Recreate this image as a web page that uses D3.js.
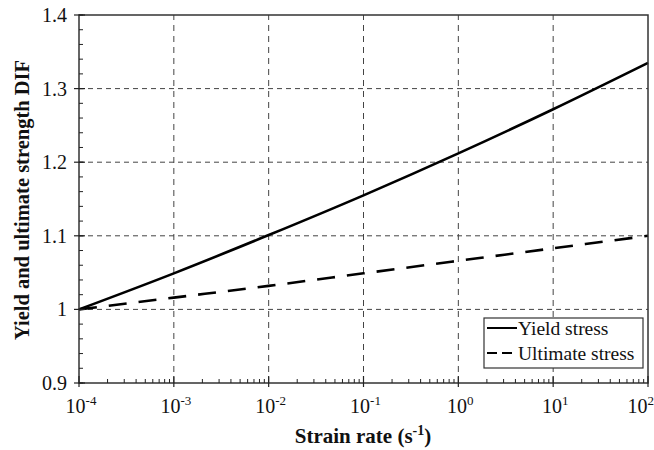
<!DOCTYPE html>
<html><head><meta charset="utf-8">
<script src="https://cdn.jsdelivr.net/npm/d3@7"></script>
<style>body{margin:0;background:#fff}svg{display:block}
text{font-family:"Liberation Serif","Times New Roman","DejaVu Serif",serif}</style>
</head><body>
<script>
const strainRates = [1e-4, 1e-3, 1e-2, 1e-1, 1e0, 1e1, 1e2];
const yieldDIF = [1.0, 1.049, 1.101, 1.155, 1.212, 1.272, 1.335];
const ultimateDIF = [1.0, 1.016, 1.032, 1.049, 1.066, 1.083, 1.100];
const yTicks = [0.9, 1.0, 1.1, 1.2, 1.3, 1.4];
const yTickLabels = ["0.9", "1", "1.1", "1.2", "1.3", "1.4"];
const xExponents = [-4, -3, -2, -1, 0, 1, 2];
const seriesNames = ["Yield stress", "Ultimate stress"];

const W = 654, H = 450;
const m = {l: 79, r: 6, t: 15, b: 67};
const svg = d3.select("body").append("svg").attr("width", W).attr("height", H);
const x = d3.scaleLog().domain([1e-4, 1e2]).range([m.l, W - m.r]);
const y = d3.scaleLinear().domain([0.9, 1.4]).range([H - m.b, m.t]);

// grid
const g = svg.append("g");
g.selectAll(".gx").data(strainRates.slice(1, -1)).enter().append("line")
  .attr("x1", d => x(d)).attr("x2", d => x(d)).attr("y1", y(0.9)).attr("y2", y(1.4))
  .attr("stroke", "#444").attr("stroke-width", 1).attr("stroke-dasharray", "6,5");
g.selectAll(".gy").data(yTicks.slice(1, -1)).enter().append("line")
  .attr("x1", x(1e-4)).attr("x2", x(1e2)).attr("y1", d => y(d)).attr("y2", d => y(d))
  .attr("stroke", "#444").attr("stroke-width", 1).attr("stroke-dasharray", "5,4");

// data lines
const line = d3.line().x(d => x(d[0])).y(d => y(d[1])).curve(d3.curveMonotoneX);
svg.append("path").datum(strainRates.map((r, i) => [r, yieldDIF[i]]))
  .attr("d", line).attr("fill", "none").attr("stroke", "#000").attr("stroke-width", 2.6);
svg.append("path").datum(strainRates.map((r, i) => [r, ultimateDIF[i]]))
  .attr("d", line).attr("fill", "none").attr("stroke", "#000").attr("stroke-width", 2.6)
  .attr("stroke-dasharray", "18,12");

// frame
svg.append("rect").attr("x", m.l).attr("y", m.t).attr("width", W - m.r - m.l).attr("height", H - m.b - m.t)
  .attr("fill", "none").attr("stroke", "#333").attr("stroke-width", 1.5);

// x ticks
const minor = [];
for (let e = -4; e < 2; e++) for (let k = 2; k <= 9; k++) minor.push(k * Math.pow(10, e));
svg.selectAll(".xm").data(minor).enter().append("line")
  .attr("x1", d => x(d)).attr("x2", d => x(d)).attr("y1", y(0.9)).attr("y2", y(0.9) - 4)
  .attr("stroke", "#222").attr("stroke-width", 1);
svg.selectAll(".xM").data(strainRates).enter().append("line")
  .attr("x1", d => x(d)).attr("x2", d => x(d)).attr("y1", y(0.9) + 4).attr("y2", y(0.9) - 7)
  .attr("stroke", "#222").attr("stroke-width", 1.2);
const nX = xExponents.length;
const xl = svg.selectAll(".xl").data(xExponents).enter().append("text")
  .attr("x", (d, i) => i === nX - 1 ? W : x(strainRates[i]) + 2)
  .attr("y", 413)
  .attr("text-anchor", (d, i) => i === nX - 1 ? "end" : "middle")
  .attr("font-size", 20).attr("fill", "#111");
xl.append("tspan").text("10");
xl.append("tspan").text(d => d).attr("dy", -8).attr("font-size", 13);

// y ticks
const yMinor = d3.range(0, 26).map(i => 0.9 + i * 0.02);
svg.selectAll(".ym").data(yMinor).enter().append("line")
  .attr("x1", m.l).attr("x2", m.l + 4).attr("y1", d => y(d)).attr("y2", d => y(d))
  .attr("stroke", "#222").attr("stroke-width", 1);
svg.selectAll(".yM").data(yTicks).enter().append("line")
  .attr("x1", m.l - 5).attr("x2", m.l + 6).attr("y1", d => y(d)).attr("y2", d => y(d))
  .attr("stroke", "#222").attr("stroke-width", 1.2);
svg.selectAll(".yl").data(yTicks).enter().append("text")
  .attr("x", m.l - 12).attr("y", d => y(d) + 7).attr("text-anchor", "end")
  .attr("font-size", 20).attr("fill", "#111")
  .text((d, i) => yTickLabels[i]);

// axis titles
const xt = svg.append("text").attr("x", 363).attr("y", 443).attr("text-anchor", "middle")
  .attr("font-size", 21).attr("font-weight", "bold").attr("fill", "#111");
xt.append("tspan").text("Strain rate (s");
xt.append("tspan").text("-1").attr("dy", -8).attr("font-size", 14);
xt.append("tspan").text(")").attr("dy", 8);
svg.append("text").attr("transform", "translate(29,200) rotate(-90)").attr("text-anchor", "middle")
  .attr("font-size", 20.5).attr("font-weight", "bold").attr("fill", "#111")
  .text("Yield and ultimate strength DIF");

// legend
const lg = svg.append("g");
lg.append("rect").attr("x", 484).attr("y", 318).attr("width", 159).attr("height", 50)
  .attr("fill", "#fff").attr("stroke", "#333").attr("stroke-width", 1.2);
seriesNames.forEach((name, i) => {
  const yy = 328 + i * 25;
  lg.append("line").attr("x1", 487).attr("x2", 517).attr("y1", yy).attr("y2", yy)
    .attr("stroke", "#000").attr("stroke-width", 2)
    .attr("stroke-dasharray", i === 1 ? "10,5" : null);
  lg.append("text").attr("x", 518).attr("y", yy + 7)
    .attr("font-size", 19.5).attr("fill", "#111").text(name);
});
</script>
</body></html>
